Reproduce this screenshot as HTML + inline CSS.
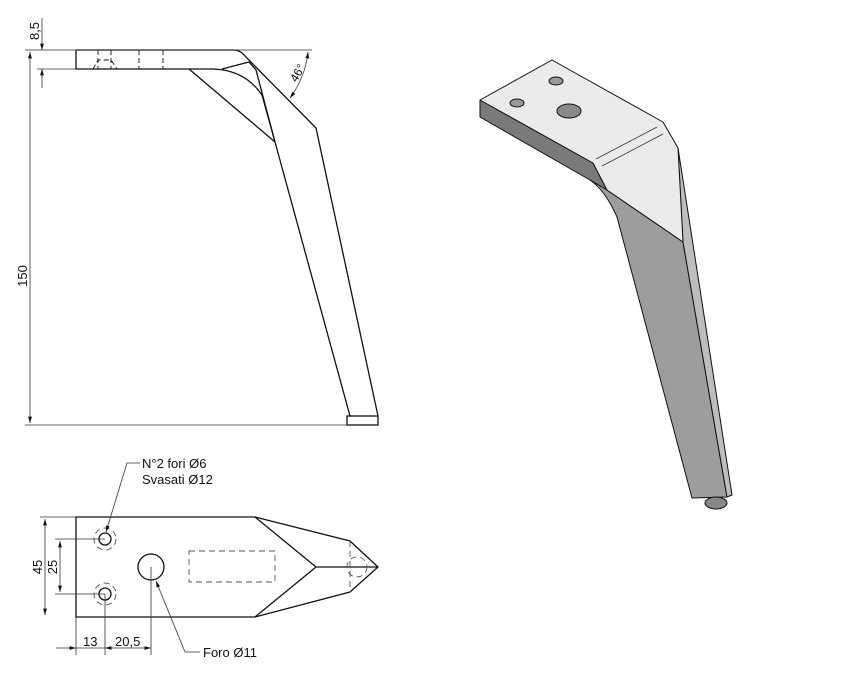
<!DOCTYPE html><html><head><style>body{margin:0;background:#fff}svg{display:block}text{font-family:"Liberation Sans",sans-serif;fill:#111}</style></head><body>
<svg width="845" height="678" viewBox="0 0 845 678" xmlns="http://www.w3.org/2000/svg">
<defs><marker id="a" viewBox="0 0 10 6" refX="10" refY="3" markerWidth="8" markerHeight="5" orient="auto-start-reverse"><path d="M0,0L10,3L0,6z" fill="#111"/></marker></defs>
<g stroke="#111" fill="none" stroke-width="1.3">
<!-- side view -->
<path d="M76,50H233Q240,50 244,55L316,128L378,416"/>
<path d="M76,50V69H213"/>
<path d="M213,69Q245,70 262,95L275,142"/>
<path d="M222,69L249,62L256,70L275,142L350,416"/>
<path d="M189,69L275,142"/>
<rect x="347" y="416" width="31" height="9"/>
<g stroke-dasharray="5,3" stroke-width="0.9"><path d="M98,50V69M111,50V69M139,50V69M163,50V69"/><path d="M93,69L98,60H111L117,69"/></g>
</g>
<g stroke="#333" fill="none" stroke-width="0.8">
<path d="M25,50H312M37,69H76M25,425H347"/>
<path d="M30,52V423" marker-start="url(#a)" marker-end="url(#a)"/>
<path d="M42,18V50" marker-end="url(#a)"/><path d="M42,88V69" marker-end="url(#a)"/>
<path d="M308,52A95,95 0 0 1 290,98" marker-start="url(#a)" marker-end="url(#a)"/>
</g>
<text x="27" y="276" font-size="13" transform="rotate(-90 27 276)" text-anchor="middle">150</text>
<text x="39" y="31" font-size="13" transform="rotate(-90 39 31)" text-anchor="middle">8,5</text>
<text x="301" y="75" font-size="12" transform="rotate(-60 301 75)" text-anchor="middle">46°</text>
<!-- plan view -->
<g stroke="#111" fill="none" stroke-width="1.3">
<path d="M76,517H255L350,541L378,567L350,592L255,617H76Z"/>
<path d="M255,517L316,567L255,617M316,567H378"/>
<circle cx="105" cy="539" r="6"/><circle cx="105" cy="594" r="6"/>
<circle cx="151" cy="567" r="13"/>
</g>
<g stroke="#555" fill="none" stroke-width="0.9" stroke-dasharray="6,4">
<circle cx="105" cy="539" r="11"/><circle cx="105" cy="594" r="11"/>
<rect x="189" y="551" width="86" height="31"/>
<circle cx="357" cy="567" r="10"/><path d="M350,541V592"/>
</g>
<g stroke="#333" fill="none" stroke-width="0.8">
<path d="M40,517H76M55,539H105M55,594H105"/>
<path d="M45,519V615" marker-start="url(#a)" marker-end="url(#a)"/>
<path d="M60,541V592" marker-start="url(#a)" marker-end="url(#a)"/>
<path d="M76,617V655M105,594V655M151,567V655"/>
<path d="M56,648H76" marker-end="url(#a)"/><path d="M76,648H105"/>
<path d="M105,648H151" marker-start="url(#a)" marker-end="url(#a)"/>
<path d="M140,463H127L106,532" marker-end="url(#a)"/>
<path d="M200,652H185L156,581" marker-end="url(#a)"/>
</g>
<text x="142" y="468" font-size="13">N°2 fori Ø6</text>
<text x="142" y="484" font-size="13">Svasati Ø12</text>
<text x="203" y="657" font-size="13">Foro Ø11</text>
<text x="83" y="646" font-size="13">13</text>
<text x="115" y="646" font-size="13">20,5</text>
<text x="57" y="567" font-size="13" transform="rotate(-90 57 567)" text-anchor="middle">25</text>
<text x="42" y="567" font-size="13" transform="rotate(-90 42 567)" text-anchor="middle">45</text>
<!-- iso -->
<g stroke="#111" stroke-width="1" stroke-linejoin="round">
<path d="M480,100L480,117L590,180L607,190L593,163Z" fill="#7a7a7a"/>
<path d="M590,180Q605,190 617,217L692,498L727,497L683,242L607,190Z" fill="#9d9d9d"/>
<path d="M678,148L732,495L727,497L683,242Z" fill="#bdbdbd"/>
<path d="M480,100L552,60L663,122L678,148L683,242L607,190L593,163Z" fill="#ebebeb"/>
<ellipse cx="716" cy="503" rx="11" ry="6" fill="#888"/>
<ellipse cx="517" cy="103" rx="7" ry="4" fill="#999"/>
<ellipse cx="556" cy="81" rx="7" ry="4" fill="#999"/>
<ellipse cx="569" cy="111" rx="12" ry="7" fill="#8a8a8a"/>
</g>
<path d="M596,159L657,127M602,166L663,134" stroke="#333" stroke-width="0.8"/>
</svg></body></html>
